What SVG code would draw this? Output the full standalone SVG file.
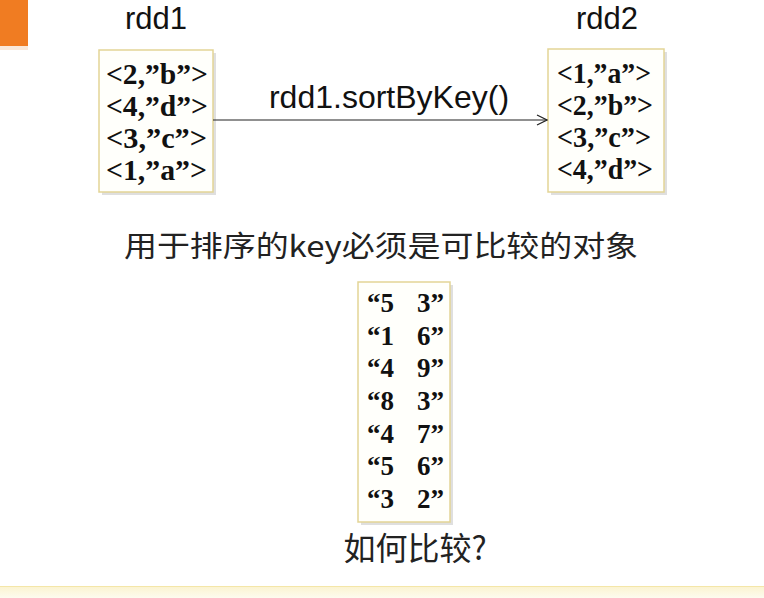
<svg xmlns="http://www.w3.org/2000/svg" width="764" height="598" viewBox="0 0 764 598">
<defs>
<style>
.lbl{font-family:"Liberation Sans",Arial,sans-serif;font-size:31px;fill:#111;}
.op{font-family:"Liberation Sans",Arial,sans-serif;font-size:32px;fill:#111;}
.item{font-family:"Liberation Serif","Times New Roman",serif;font-size:29px;font-weight:bold;fill:#111;}
.num{font-family:"Liberation Serif","Times New Roman",serif;font-size:27px;font-weight:bold;fill:#111;}
.cjk{font-family:"Noto Sans CJK SC","Liberation Sans",sans-serif;font-size:29px;fill:#222;}
.q{font-family:"Noto Sans CJK SC","Liberation Sans",sans-serif;font-size:32px;fill:#222;}
.box{fill:#fffffb;stroke:#e3d596;stroke-width:1.5;}
.shadow{fill:#c4c4c4;opacity:0.55;}
.conn{stroke:#222;stroke-width:1.2;fill:none;}
</style>
<marker id="open" viewBox="0 0 12 12" refX="11" refY="6" markerWidth="12" markerHeight="12" markerUnits="userSpaceOnUse" orient="auto">
<path d="M1,1 L11,6 L1,11" fill="none" stroke="#222" stroke-width="1.2"/>
</marker>
<linearGradient id="band" x1="0" y1="0" x2="0" y2="1">
<stop offset="0" stop-color="#fbf3cf"/>
<stop offset="1" stop-color="#fdfbef"/>
</linearGradient>
</defs>
<rect width="764" height="598" fill="#ffffff"/>
<rect x="0" y="0" width="28" height="46" fill="#f07c22"/>
<rect x="0" y="46" width="28" height="4" fill="#f6d9c0" opacity="0.6"/>
<rect x="0" y="586" width="764" height="12" fill="url(#band)"/>
<line x1="0" y1="586.5" x2="764" y2="586.5" stroke="#f4e6a8" stroke-width="1"/>

<g id="rdd1">
<text class="lbl" x="156" y="29" text-anchor="middle">rdd1</text>
<rect class="shadow" x="102" y="53" width="114" height="142"/>
<rect class="box" x="99" y="50" width="114" height="142"/>
<text class="item" x="106" y="84" textLength="102" lengthAdjust="spacingAndGlyphs">&lt;2,”b”&gt;</text>
<text class="item" x="106" y="116" textLength="102" lengthAdjust="spacingAndGlyphs">&lt;4,”d”&gt;</text>
<text class="item" x="106" y="148" textLength="101" lengthAdjust="spacingAndGlyphs">&lt;3,”c”&gt;</text>
<text class="item" x="106" y="180" textLength="101" lengthAdjust="spacingAndGlyphs">&lt;1,”a”&gt;</text>
</g>

<g id="rdd2">
<text class="lbl" x="607" y="29" text-anchor="middle">rdd2</text>
<rect class="shadow" x="551" y="52" width="116" height="143"/>
<rect class="box" x="548" y="49" width="116" height="143"/>
<text class="item" x="557" y="83" textLength="94" lengthAdjust="spacingAndGlyphs">&lt;1,”a”&gt;</text>
<text class="item" x="557" y="115" textLength="96" lengthAdjust="spacingAndGlyphs">&lt;2,”b”&gt;</text>
<text class="item" x="557" y="147" textLength="94" lengthAdjust="spacingAndGlyphs">&lt;3,”c”&gt;</text>
<text class="item" x="557" y="179" textLength="96" lengthAdjust="spacingAndGlyphs">&lt;4,”d”&gt;</text>
</g>

<g id="connectors">
<line class="conn" x1="213" y1="120" x2="547" y2="120" marker-end="url(#open)"/>
<text class="op" x="389" y="108" text-anchor="middle">rdd1.sortByKey()</text>
</g>

<g id="note">
<text class="cjk" x="381" y="257" text-anchor="middle" textLength="514" lengthAdjust="spacingAndGlyphs">用于排序的key必须是可比较的对象</text>
</g>

<g id="numbers">
<rect class="shadow" x="361" y="285" width="92" height="240"/>
<rect class="box" x="358" y="282" width="92" height="240"/>
<text class="num" x="367" y="312">“5</text><text class="num" x="417" y="312">3”</text>
<text class="num" x="367" y="345">“1</text><text class="num" x="417" y="345">6”</text>
<text class="num" x="367" y="377">“4</text><text class="num" x="417" y="377">9”</text>
<text class="num" x="367" y="410">“8</text><text class="num" x="417" y="410">3”</text>
<text class="num" x="367" y="443">“4</text><text class="num" x="417" y="443">7”</text>
<text class="num" x="367" y="475">“5</text><text class="num" x="417" y="475">6”</text>
<text class="num" x="367" y="508">“3</text><text class="num" x="417" y="508">2”</text>
</g>

<g id="question">
<text class="q" x="415" y="560" text-anchor="middle">如何比较?</text>
</g>
</svg>
